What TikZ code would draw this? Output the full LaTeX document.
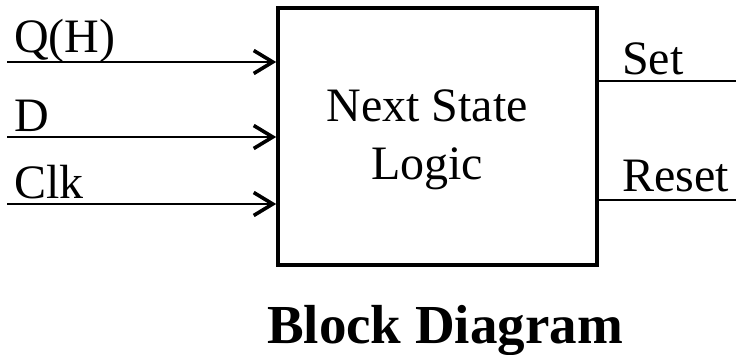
\documentclass[tikz,border=0pt]{standalone}
\usepackage{fontspec}
\setmainfont{Liberation Serif}
\usetikzlibrary{arrows.meta}
\begin{document}
\begin{tikzpicture}[x=1pt,y=-1pt,
  lbl/.style={anchor=base west,inner sep=0pt,font=\fontsize{48}{54}\selectfont},
  inner/.style={anchor=base,inner sep=0pt,font=\fontsize{48}{54}\selectfont},
  wire/.style={line width=1.7pt},
  inwire/.style={line width=2pt,-{Straight Barb[length=19pt,width=23pt,line width=3.6pt]}},
  blk/.style={draw,line width=3.6pt,minimum width=319pt,minimum height=257pt,inner sep=0pt}]
  \useasboundingbox (0,0) rectangle (736,355);

  % the logic block
  \node[blk] (box) at (437.5,136.5) {};
  \node[inner] (t1) at (427,122) {Next State};
  \node[inner] (t2) at (427,180) {Logic};

  % inputs
  \coordinate (qin) at (7,62);
  \coordinate (din) at (7,137);
  \coordinate (cin) at (7,204);
  \node[lbl] (lq) at (14,53) {Q(H)};
  \node[lbl] (ld) at (14,132) {D};
  \node[lbl] (lc) at (14,199) {Clk};
  \draw[inwire] (qin) -- (qin -| box.west);
  \draw[inwire] (din) -- (din -| box.west);
  \draw[inwire] (cin) -- (cin -| box.west);

  % outputs
  \coordinate (sout) at (736,81);
  \coordinate (rout) at (736,200);
  \node[lbl] (ls) at (622,75) {Set};
  \node[lbl] (lr) at (622,192) {Reset};
  \draw[wire] (sout -| box.east) -- (sout);
  \draw[wire] (rout -| box.east) -- (rout);

  % caption
  \node[anchor=base,inner sep=0pt,font=\fontsize{55}{60}\selectfont\bfseries] (cap) at (445,343) {Block Diagram};
\end{tikzpicture}
\end{document}
